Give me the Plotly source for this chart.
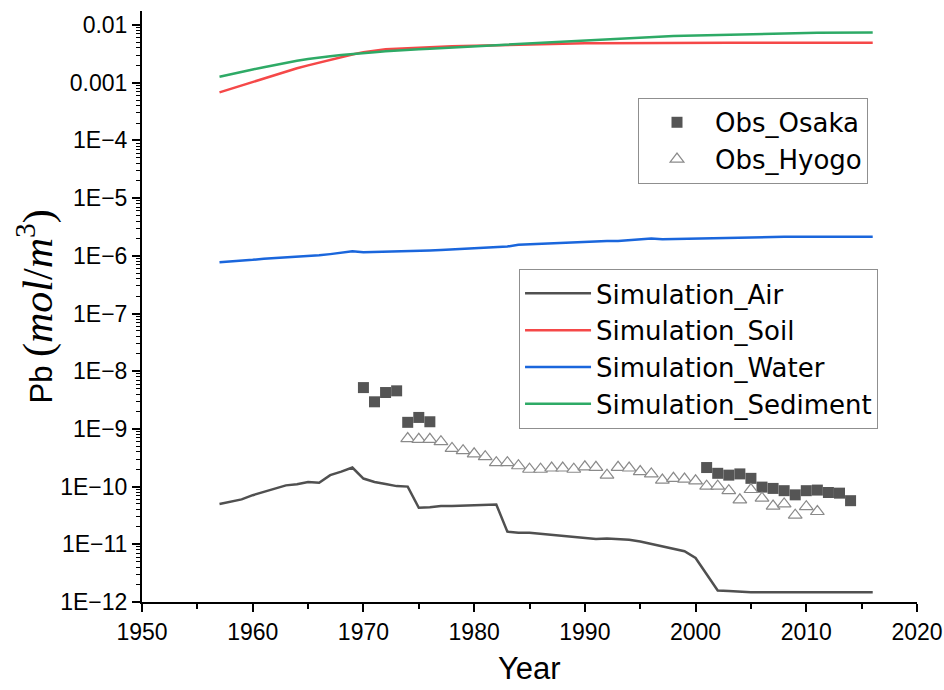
import plotly.graph_objects as go

# ---------------- data ----------------
years = list(range(1957, 2017))

sim_air = [5.0e-11, 5.5e-11, 6.0e-11, 7.1e-11, 8.1e-11, 9.1e-11, 1.05e-10, 1.10e-10, 1.20e-10, 1.17e-10,
           1.58e-10, 1.82e-10, 2.14e-10, 1.38e-10, 1.20e-10, 1.11e-10, 1.02e-10, 1.0e-10, 4.3e-11, 4.4e-11,
           4.6e-11, 4.6e-11, 4.7e-11, 4.7e-11, 4.9e-11, 4.9e-11, 1.66e-11, 1.58e-11, 1.58e-11, 1.51e-11,
           1.48e-11, 1.38e-11, 1.32e-11, 1.29e-11, 1.23e-11, 1.26e-11, 1.23e-11, 1.20e-11, 1.12e-11, 1.02e-11,
           9.3e-12, 8.5e-12, 7.6e-12, 5.8e-12, 3.0e-12, 1.58e-12, 1.55e-12, 1.51e-12, 1.48e-12, 1.48e-12,
           1.48e-12, 1.48e-12, 1.48e-12, 1.48e-12, 1.48e-12, 1.48e-12, 1.48e-12, 1.48e-12, 1.48e-12, 1.48e-12]

sim_soil = [6.8e-4, 7.8e-4, 8.9e-4, 1.02e-3, 1.17e-3, 1.35e-3, 1.58e-3, 1.78e-3, 2.0e-3, 2.24e-3,
            2.51e-3, 2.82e-3, 3.09e-3, 3.39e-3, 3.63e-3, 3.80e-3, 3.89e-3, 3.98e-3, 4.07e-3, 4.17e-3,
            4.22e-3, 4.27e-3, 4.32e-3, 4.37e-3, 4.47e-3, 4.52e-3, 4.57e-3, 4.62e-3, 4.68e-3, 4.72e-3,
            4.75e-3, 4.78e-3, 4.80e-3, 4.82e-3, 4.84e-3, 4.86e-3, 4.87e-3, 4.88e-3, 4.89e-3, 4.90e-3,
            4.90e-3, 4.91e-3, 4.91e-3, 4.92e-3, 4.92e-3, 4.92e-3, 4.93e-3, 4.93e-3, 4.93e-3, 4.93e-3,
            4.93e-3, 4.94e-3, 4.94e-3, 4.94e-3, 4.94e-3, 4.94e-3, 4.94e-3, 4.94e-3, 4.94e-3, 4.94e-3]

sim_water = [7.76e-7, 7.94e-7, 8.32e-7, 8.51e-7, 8.91e-7, 9.12e-7, 9.55e-7, 9.77e-7, 1.0e-6, 1.02e-6,
             1.07e-6, 1.12e-6, 1.20e-6, 1.15e-6, 1.16e-6, 1.17e-6, 1.20e-6, 1.22e-6, 1.23e-6, 1.24e-6,
             1.26e-6, 1.29e-6, 1.32e-6, 1.35e-6, 1.38e-6, 1.41e-6, 1.45e-6, 1.55e-6, 1.58e-6, 1.62e-6,
             1.66e-6, 1.70e-6, 1.74e-6, 1.76e-6, 1.78e-6, 1.80e-6, 1.80e-6, 1.86e-6, 1.93e-6, 2.0e-6,
             1.93e-6, 1.95e-6, 1.97e-6, 2.0e-6, 2.02e-6, 2.04e-6, 2.07e-6, 2.09e-6, 2.11e-6, 2.14e-6,
             2.14e-6, 2.14e-6, 2.14e-6, 2.14e-6, 2.14e-6, 2.14e-6, 2.14e-6, 2.14e-6, 2.14e-6, 2.14e-6]

sim_sediment = [1.27e-3, 1.41e-3, 1.55e-3, 1.70e-3, 1.86e-3, 2.04e-3, 2.24e-3, 2.40e-3, 2.57e-3, 2.75e-3,
                2.88e-3, 3.02e-3, 3.16e-3, 3.27e-3, 3.39e-3, 3.51e-3, 3.63e-3, 3.72e-3, 3.80e-3, 3.89e-3,
                3.98e-3, 4.07e-3, 4.17e-3, 4.27e-3, 4.37e-3, 4.47e-3, 4.57e-3, 4.73e-3, 4.90e-3, 5.00e-3,
                5.13e-3, 5.25e-3, 5.37e-3, 5.50e-3, 5.62e-3, 5.75e-3, 5.89e-3, 6.03e-3, 6.17e-3, 6.24e-3,
                6.31e-3, 6.46e-3, 6.53e-3, 6.61e-3, 6.68e-3, 6.76e-3, 6.84e-3, 6.92e-3, 7.00e-3, 7.08e-3,
                7.13e-3, 7.18e-3, 7.23e-3, 7.28e-3, 7.33e-3, 7.36e-3, 7.40e-3, 7.41e-3, 7.42e-3, 7.43e-3]

osaka_years = [1970, 1971, 1972, 1973, 1974, 1975, 1976,
               2001, 2002, 2003, 2004, 2005, 2006, 2007, 2008, 2009, 2010, 2011, 2012, 2013, 2014]
osaka_vals = [5.2e-9, 2.95e-9, 4.27e-9, 4.57e-9, 1.30e-9, 1.58e-9, 1.33e-9,
              2.14e-10, 1.70e-10, 1.58e-10, 1.66e-10, 1.39e-10, 9.8e-11, 9.3e-11, 8.5e-11, 7.2e-11,
              8.5e-11, 8.7e-11, 7.9e-11, 7.7e-11, 5.7e-11]

hyogo_years = list(range(1974, 2012))
hyogo_vals = [6.8e-10, 6.6e-10, 6.6e-10, 6.0e-10, 4.6e-10, 4.2e-10, 3.7e-10, 3.3e-10, 2.6e-10, 2.6e-10,
              2.3e-10, 2.0e-10, 2.0e-10, 2.1e-10, 2.1e-10, 2.0e-10, 2.2e-10, 2.16e-10, 1.58e-10, 2.16e-10,
              2.1e-10, 1.82e-10, 1.66e-10, 1.30e-10, 1.39e-10, 1.35e-10, 1.26e-10, 1.02e-10, 1.02e-10, 8.5e-11,
              5.9e-11, 8.9e-11, 6.3e-11, 4.6e-11, 5.0e-11, 3.2e-11, 4.5e-11, 3.7e-11]

y_tick_vals = [1e-12, 1e-11, 1e-10, 1e-9, 1e-8, 1e-7, 1e-6, 1e-5, 1e-4, 1e-3, 1e-2]
y_tick_text = ["1E\u221212", "1E\u221211", "1E\u221210", "1E\u22129", "1E\u22128", "1E\u22127",
               "1E\u22126", "1E\u22125", "1E\u22124", "0.001", "0.01"]
x_tick_vals = [1950, 1960, 1970, 1980, 1990, 2000, 2010, 2020]

# ---------------- figure ----------------
FONT = "Liberation Sans, Arial, sans-serif"
LEGFONT = "DejaVu Sans, Liberation Sans, sans-serif"
fig = go.Figure()

line_series = [
    ("Simulation_Air", sim_air, "#505050"),
    ("Simulation_Soil", sim_soil, "#f54848"),
    ("Simulation_Water", sim_water, "#1a66dc"),
    ("Simulation_Sediment", sim_sediment, "#2eaa66"),
]
for name, vals, col in line_series:
    fig.add_trace(go.Scatter(x=years, y=vals, mode="lines", name=name,
                             line=dict(color=col, width=2.5), legend="legend2"))

fig.add_trace(go.Scatter(x=osaka_years, y=osaka_vals, mode="markers", name="Obs_Osaka",
                         marker=dict(symbol="square", size=11, color="#555555", line=dict(width=0)),
                         legend="legend"))
fig.add_trace(go.Scatter(x=hyogo_years, y=hyogo_vals, mode="markers", name="Obs_Hyogo",
                         marker=dict(symbol="triangle-up", size=12, color="white",
                                     line=dict(color="#8a8a8a", width=1.2)),
                         legend="legend"))

minor_vals = [m * 10.0 ** e for e in range(-12, -1) for m in range(2, 10)]

fig.update_layout(
    width=944, height=690,
    margin=dict(l=142, r=27, t=11, b=88, autoexpand=False),
    paper_bgcolor="white", plot_bgcolor="white",
    font=dict(family=FONT, color="black", size=23),
    showlegend=True,
    legend=dict(x=0.64, y=0.853, xanchor="left", yanchor="top",
                bgcolor="white", bordercolor="#8f8f8f", borderwidth=1,
                font=dict(family=LEGFONT, size=26, color="black"), itemwidth=66),
    legend2=dict(x=0.4865, y=0.5635, xanchor="left", yanchor="top",
                 bgcolor="white", bordercolor="#8f8f8f", borderwidth=1,
                 font=dict(family=LEGFONT, size=26, color="black"), itemwidth=66),
    xaxis=dict(range=[1950, 2020], tickmode="array", tickvals=x_tick_vals, automargin=False,
               ticks="outside", ticklen=8, tickwidth=2, tickcolor="black",
               showline=True, linecolor="black", linewidth=2, mirror=False,
               showgrid=False, zeroline=False,
               tickfont=dict(family=FONT, size=23, color="black"),
               minor=dict(ticks="outside", ticklen=5, tickwidth=1.5, tickcolor="black",
                          dtick=5, showgrid=False)),
    yaxis=dict(type="log", range=[-12, -1.757], tickmode="array", automargin=False,
               tickvals=y_tick_vals, ticktext=y_tick_text,
               ticks="outside", ticklen=8, tickwidth=2, tickcolor="black",
               showline=True, linecolor="black", linewidth=2, mirror=False,
               showgrid=False, zeroline=False,
               tickfont=dict(family=FONT, size=23, color="black"),
               minor=dict(ticks="outside", ticklen=4, tickwidth=1.2, tickcolor="black",
                          tickmode="array", tickvals=minor_vals, showgrid=False)),
)

fig.add_annotation(text="Year", xref="paper", yref="paper", x=0.5006, y=-0.1117,
                   xanchor="center", yanchor="middle", showarrow=False,
                   font=dict(family=FONT, size=31, color="black"))
fig.add_annotation(text="Pb <span style='font-family:Liberation Serif, serif;font-size:42px'>(<i>mol</i>/<i>m</i><sup>3</sup>)</span>",
                   xref="paper", yref="paper", x=-0.138, y=0.50,
                   xanchor="center", yanchor="middle", showarrow=False, textangle=-90,
                   font=dict(family=FONT, size=31, color="black"))

fig.write_html("out.html")
